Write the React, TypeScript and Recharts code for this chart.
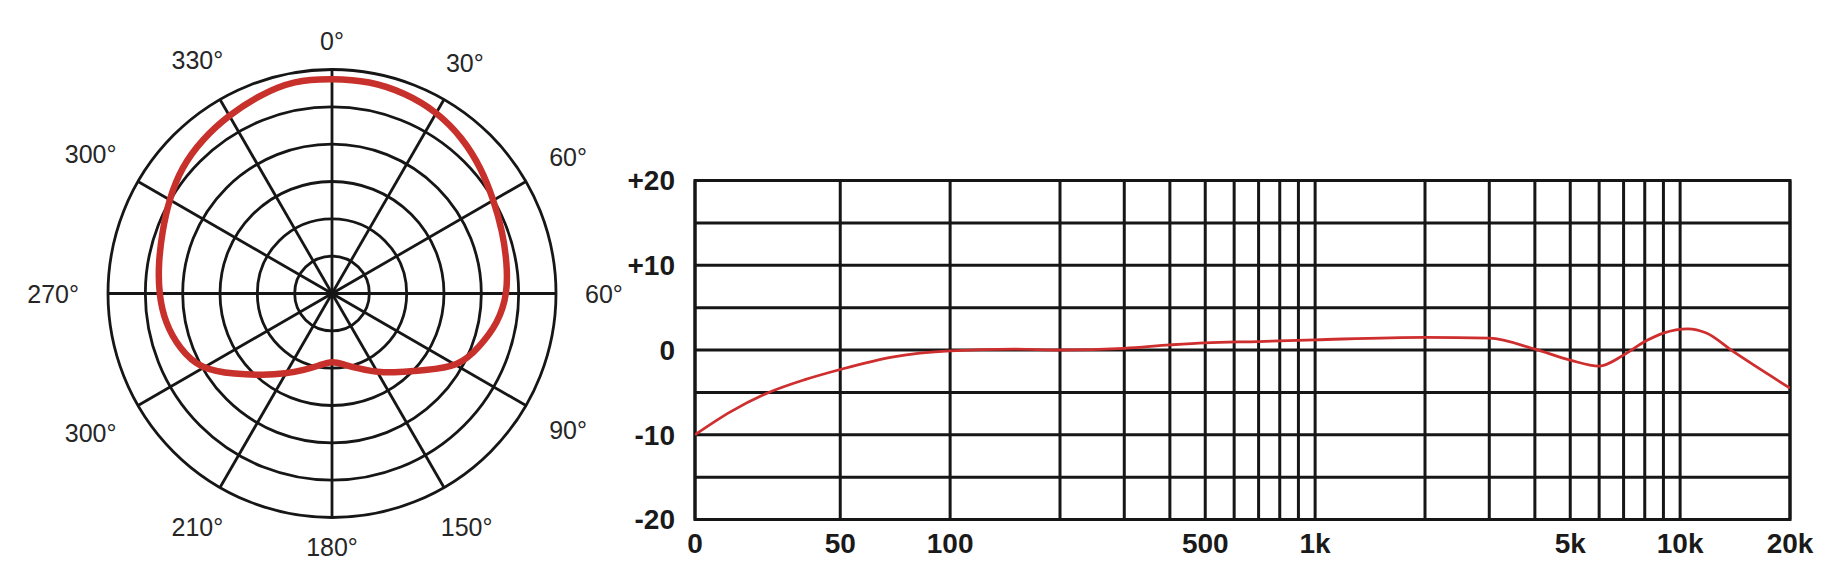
import React from 'react';
import {
  RadarChart,
  PolarGrid,
  PolarAngleAxis,
  PolarRadiusAxis,
  Radar,
  Curve,
  LineChart,
  Line,
  XAxis,
  YAxis,
  CartesianGrid,
  ReferenceArea,
} from 'recharts';

// polar pattern, read every 10 degrees clockwise from the top (0 = centre, 30 = outer ring)
const patternAngles = [
  0, 10, 20, 30, 40, 50, 60, 70, 80, 90, 100, 110, 120, 130, 140, 150, 160, 170,
  180, 190, 200, 210, 220, 230, 240, 250, 260, 270, 280, 290, 300, 310, 320, 330, 340, 350,
];
const patternLevels = [
  28.8, 28.9, 28.6, 28.1, 27.2, 26.1, 25.0, 24.3, 23.8, 23.5, 22.6, 21.0, 19.6, 16.0, 13.8, 12.2, 10.7, 9.7,
  9.0, 9.8, 10.9, 12.4, 14.3, 16.8, 20.3, 21.7, 22.7, 23.2, 23.6, 24.2, 25.2, 26.3, 27.0, 27.6, 28.3, 29.0,
];
const ringLevels = [5, 10, 15, 20, 25, 30];
const spokeAngles = [0, 30, 60, 90, 120, 150, 180, 210, 240, 270, 300, 330];
// labels as printed on the original, going clockwise from the top
const angleLabels = ['0°', '30°', '60°', '60°', '90°', '150°', '180°', '210°', '300°', '270°', '300°', '330°'];

// frequency response
const freqHz = [20, 25, 31.5, 40, 50, 70, 100, 150, 200, 300, 400, 500, 700, 1000, 2000, 3000, 4000, 5000, 6000, 7000, 8000, 9000, 10500, 11800, 14000, 20000];
const responseDb = [-10, -7.3, -5.1, -3.5, -2.3, -0.8, -0.1, 0.1, 0.0, 0.2, 0.6, 0.85, 1.0, 1.2, 1.5, 1.4, 0.1, -1.2, -1.9, -0.6, 1.0, 2.0, 2.5, 2.0, -0.2, -4.5];
const gridFreqs = [20, 50, 100, 200, 300, 400, 500, 600, 700, 800, 900, 1000, 2000, 3000, 4000, 5000, 6000, 7000, 8000, 9000, 10000, 20000];
const labelFreqs = [20, 50, 100, 500, 1000, 5000, 10000, 20000];
const labelTexts = ['0', '50', '100', '500', '1k', '5k', '10k', '20k'];
const dbTicks = [-20, -15, -10, -5, 0, 5, 10, 15, 20];
const dbLabelValues = [20, 10, 0, -10, -20];
const dbLabelTexts = ['+20', '+10', '0', '-10', '-20'];

const OUTER_R = 224;
const LEVEL_MAX = 30;
const INK = '#161616';
const PATTERN_RED = '#c8302b';

const patternData = patternAngles.map((angle, i) => ({ angle, level: patternLevels[i] }));
const responseData = freqHz.map((f, i) => ({ f, db: responseDb[i] }));

function AngleTick(props: any) {
  const { x, y, payload } = props;
  const value = payload?.value as number;
  if (value % 30 !== 0) return <g />;
  const label = angleLabels[value / 30];
  const fontSize = 25;
  const a = (payload.coordinate * Math.PI) / 180;
  const ux = Math.cos(a);
  const uy = -Math.sin(a);
  const w = fontSize * (0.556 * (label.length - 1) + 0.4);
  const h = fontSize * 0.72;
  const extra = 9 * Math.abs(ux) + (Math.abs(ux) * w) / 2 + (Math.abs(uy) * h) / 2;
  return (
    <text
      x={x + ux * extra}
      y={y + uy * extra}
      textAnchor="middle"
      dominantBaseline="central"
      fontSize={fontSize}
      fontFamily="Arial, Helvetica, sans-serif"
      fill="#262626"
    >
      {label}
    </text>
  );
}

// closed smooth outline through the radar points instead of a polygon
function SmoothPattern(props: any) {
  if (!props.points || !props.points.length) return null;
  return (
    <Curve
      type="basisClosed"
      points={props.points}
      stroke={PATTERN_RED}
      strokeWidth={6.5}
      strokeLinejoin="round"
      fill="none"
    />
  );
}

function freqLabel(v: number) {
  const i = labelFreqs.indexOf(v);
  return i >= 0 ? labelTexts[i] : '';
}

function dbLabel(v: number) {
  const i = dbLabelValues.indexOf(v);
  return i >= 0 ? dbLabelTexts[i] : '';
}

const axisFont = { fill: '#1a1a1a', fontSize: 28, fontWeight: 700, fontFamily: 'Arial, Helvetica, sans-serif' };

export default function App() {
  return (
    <div
      style={{
        position: 'absolute',
        left: 0,
        top: 0,
        width: 1840,
        height: 586,
        background: '#fff',
        overflow: 'hidden',
      }}
    >
      <div style={{ position: 'absolute', left: 0, top: 0 }}>
        <RadarChart
          width={640}
          height={586}
          cx={332}
          cy={293.5}
          outerRadius={OUTER_R}
          data={patternData}
          margin={{ top: 0, right: 0, bottom: 0, left: 0 }}
        >
          <PolarGrid
            gridType="circle"
            stroke={INK}
            strokeWidth={2.8}
            polarAngles={spokeAngles}
            polarRadius={ringLevels.map((v) => (v / LEVEL_MAX) * OUTER_R)}
          />
          <PolarAngleAxis
            dataKey="angle"
            tick={AngleTick}
            tickLine={false}
            axisLine={false}
            tickSize={20}
          />
          <PolarRadiusAxis domain={[0, LEVEL_MAX]} tick={false} axisLine={false} />
          <Radar
            dataKey="level"
            stroke={PATTERN_RED}
            strokeWidth={6.5}
            fill="none"
            fillOpacity={0}
            dot={false}
            shape={SmoothPattern}
            isAnimationActive={false}
          />
        </RadarChart>
      </div>

      <div style={{ position: 'absolute', left: 600, top: 150 }}>
        <LineChart
          width={1240}
          height={436}
          data={responseData}
          margin={{ top: 30.5, right: 50, bottom: 16.5, left: 35 }}
        >
          <CartesianGrid stroke={INK} strokeWidth={3} fill="none" />
          <XAxis
            dataKey="f"
            type="number"
            scale="log"
            domain={[20, 20000]}
            ticks={gridFreqs}
            interval={0}
            allowDataOverflow
            tickFormatter={freqLabel}
            tickLine={false}
            axisLine={false}
            tickSize={0}
            tickMargin={14}
            height={50}
            tick={axisFont}
          />
          <YAxis
            type="number"
            domain={[-20, 20]}
            ticks={dbTicks}
            interval={0}
            allowDataOverflow
            tickFormatter={dbLabel}
            tickLine={false}
            axisLine={false}
            tickSize={0}
            tickMargin={20}
            width={60}
            tick={axisFont}
          />
          <ReferenceArea
            x1={20}
            x2={20000}
            y1={-20}
            y2={20}
            fill="none"
            fillOpacity={0}
            stroke={INK}
            strokeWidth={3}
          />
          <Line
            type="monotone"
            dataKey="db"
            stroke="#cf2e2e"
            strokeWidth={2.8}
            dot={false}
            isAnimationActive={false}
          />
        </LineChart>
      </div>
    </div>
  );
}
